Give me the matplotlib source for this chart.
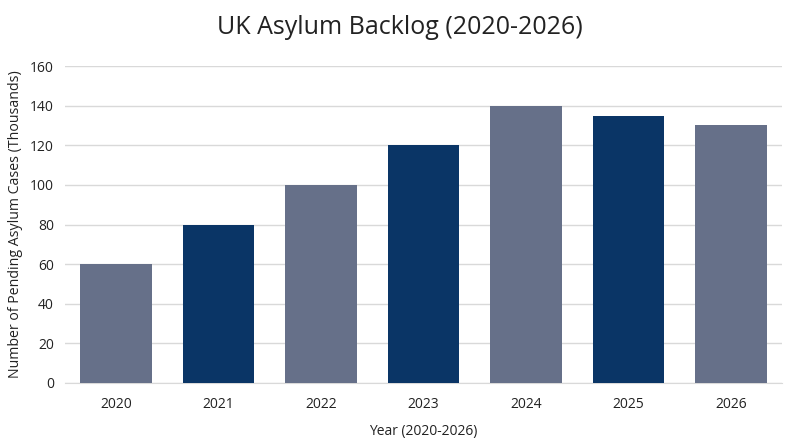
import matplotlib
matplotlib.use("Agg")
import matplotlib.pyplot as plt

years = ["2020", "2021", "2022", "2023", "2024", "2025", "2026"]
backlog = [60, 80, 100, 120, 140, 135, 130]
bar_colors = ["#667089", "#0a3566", "#667089", "#0a3566", "#667089", "#0a3566", "#667089"]
y_ticks = [0, 20, 40, 60, 80, 100, 120, 140, 160]

plt.rcParams['font.family'] = ['Open Sans', 'DejaVu Sans']

fig = plt.figure(figsize=(8, 4.47), dpi=100)
ax = fig.add_axes([65/800, 1-383/447, (782-65)/800, (383-66)/447])

x = list(range(len(years)))
ax.bar(x, backlog, width=0.7, color=bar_colors, zorder=3)
ax.set_xlim(-0.5, len(years)-0.5)
ax.set_ylim(0, 160)
ax.set_yticks(y_ticks)
ax.set_xticks(x)
ax.set_xticklabels(years)
ax.grid(axis='y', color='#d9d9d9', linewidth=1, zorder=0)
for s in ['top', 'right', 'left']:
    ax.spines[s].set_visible(False)
ax.spines['bottom'].set_color('#d9d9d9')
ax.tick_params(axis='both', length=0, labelsize=10, colors='#222222')
ax.tick_params(axis='x', pad=10)
ax.tick_params(axis='y', pad=8)
ax.set_xlabel("Year (2020-2026)", fontsize=10, color='#222222', labelpad=9)
ax.set_ylabel("Number of Pending Asylum Cases (Thousands)", fontsize=10.2, color='#222222', labelpad=5)
fig.suptitle("UK Asylum Backlog (2020-2026)", fontsize=18, color='#222222', y=1-27/447, va='center')

fig.savefig("out.png", dpi=100)
